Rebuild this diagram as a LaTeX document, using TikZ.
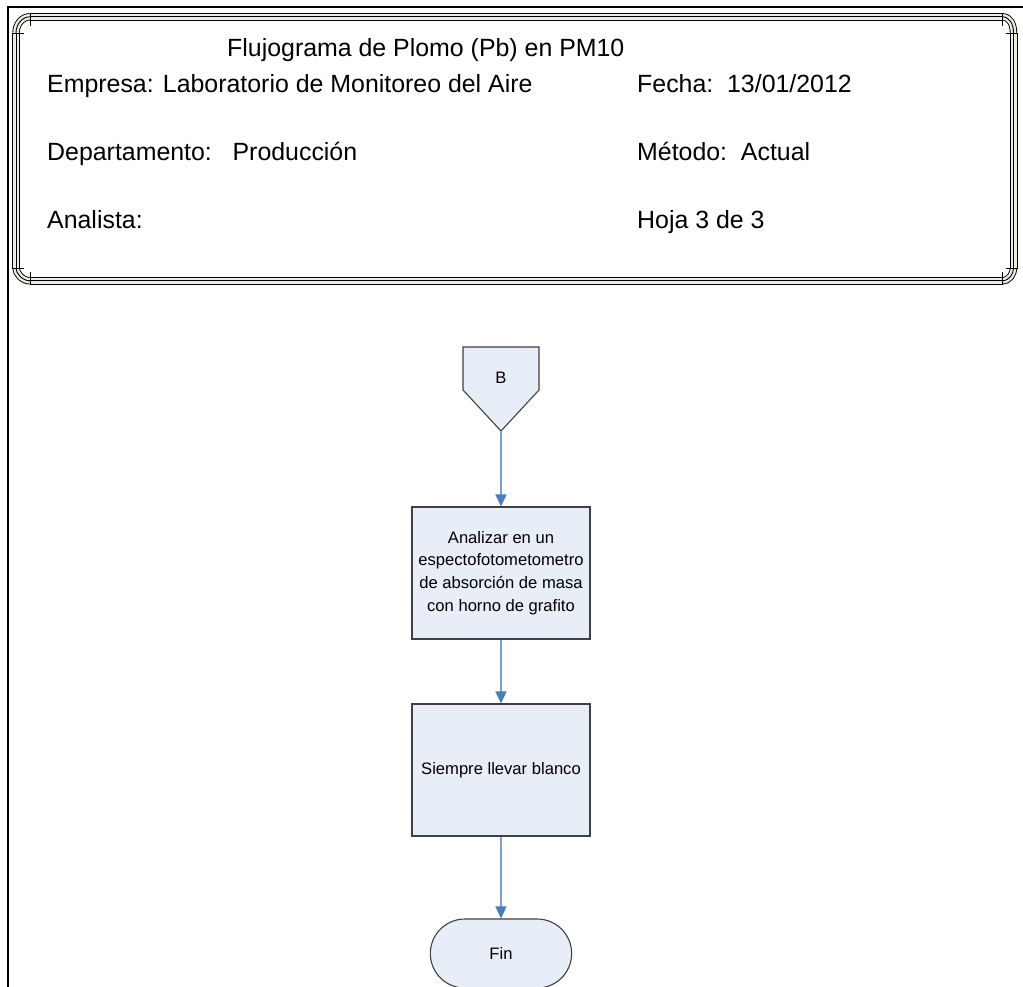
\documentclass[tikz,border=0pt]{standalone}
\usepackage{fontspec}
\setmainfont{Liberation Sans}
\usetikzlibrary{arrows.meta,shapes.misc}
\definecolor{bandfill}{RGB}{238,236,225}
\definecolor{boxfill}{RGB}{232,238,247}
\definecolor{boxline}{RGB}{64,64,64}
\definecolor{flowline}{RGB}{125,158,212}
\definecolor{flowhead}{RGB}{74,126,187}
\tikzset{
  hdr/.style={anchor=base west, inner sep=0pt, font=\fontsize{24.9}{30}\selectfont},
  proc/.style={draw=boxline, fill=boxfill, line width=1.1pt, minimum width=178pt,
    minimum height=132pt, align=center, inner sep=2pt,
    font=\fontsize{16.6}{22.7}\selectfont},
  term/.style={draw=boxline, fill=boxfill, rounded rectangle, line width=1.1pt,
    minimum width=148pt, minimum height=69pt, font=\fontsize{16.6}{20}\selectfont},
  flow/.style={draw=flowline, line width=1.2pt,
    -{Triangle[length=12pt,width=11pt,color=flowhead]}},
  bandline/.style={line width=0.9pt},
  bandouter/.style={line width=7.4pt, draw=black},
  bandinner/.style={line width=5.6pt, draw=bandfill},
}
\begin{document}
\begin{tikzpicture}[x=1pt,y=-1pt]
  \clip (0,0) rectangle (1023,986);
  \fill[white] (0,0) rectangle (1023,986);

  % page frame
  \draw[line width=2pt] (8,990) -- (8,7) -- (1030,7);

  % header frame: rounded corner pieces
  \foreach \p in {
      {(30,16.75) .. controls (22.27,16.75) and (16,24.03) .. (16,33)},
      {(1002,16.75) .. controls (1009.73,16.75) and (1013.5,24.03) .. (1013.5,33)},
      {(30,280.75) .. controls (22.27,280.75) and (16,273.5) .. (16,268)},
      {(1002,280.75) .. controls (1009.73,280.75) and (1013.5,273.5) .. (1013.5,268)}}{
    \draw[bandouter] \p;
    \draw[bandinner] \p;
    \draw[bandline] \p;
  }
  % header frame: straight bands
  \filldraw[fill=bandfill, bandline] (30,13.5) rectangle (1002,20);
  \draw[bandline] (30,16.75) -- (1002,16.75);
  \filldraw[fill=bandfill, bandline] (30,277.5) rectangle (1002,284);
  \draw[bandline] (30,280.75) -- (1002,280.75);
  \filldraw[fill=bandfill, bandline] (12.5,33) rectangle (19.5,268);
  \draw[bandline] (16,33) -- (16,268);
  \filldraw[fill=bandfill, bandline] (1010,33) rectangle (1017,268);
  \draw[bandline] (1013.5,33) -- (1013.5,268);
  % corner caps
  \draw[bandline] (30,20) -- (30,26) (19.5,33) -- (24,33);
  \draw[bandline] (1002,20) -- (1002,26) (1010,33) -- (1006,33);
  \draw[bandline] (30,277.5) -- (30,272) (19.5,268) -- (24,268);
  \draw[bandline] (1002,277.5) -- (1002,272) (1010,268) -- (1006,268);

  % header texts
  \node[hdr] (title) at (227,56) {Flujograma de Plomo (Pb) en PM10};
  \node[hdr] (empresa) at (47,92) {Empresa: Laboratorio de Monitoreo del Aire};
  \node[hdr] (fecha) at (637,92) {Fecha:\ \ 13/01/2012};
  \node[hdr] (depto) at (47,160) {Departamento:\ \ \ Producción};
  \node[hdr] (metodo) at (637,160) {Método:\ \ Actual};
  \node[hdr] (analista) at (47,228) {Analista:};
  \node[hdr] (hoja) at (637,228) {Hoja 3 de 3};

  % off-page connector B
  \filldraw[draw=boxline, fill=boxfill, line width=1.1pt]
    (463,347) -- (539,347) -- (539,390) -- (501,431) -- (463,390) -- cycle;
  \node[font=\fontsize{16.6}{20}\selectfont] (B) at (501,378) {B};
  \coordinate (Btip) at (501,431);

  % process steps
  \node[proc] (analizar) at (501,573)
    {Analizar en un\\espectofotometometro\\de absorción de masa\\con horno de grafito};
  \node[proc] (blanco) at (501,770) {Siempre llevar blanco};
  \node[term] (fin) at (501,953.5) {Fin};

  % connectors
  \draw[flow] (Btip) -- (analizar.north);
  \draw[flow] (analizar.south) -- (blanco.north);
  \draw[flow] (blanco.south) -- (fin.north);
\end{tikzpicture}
\end{document}
